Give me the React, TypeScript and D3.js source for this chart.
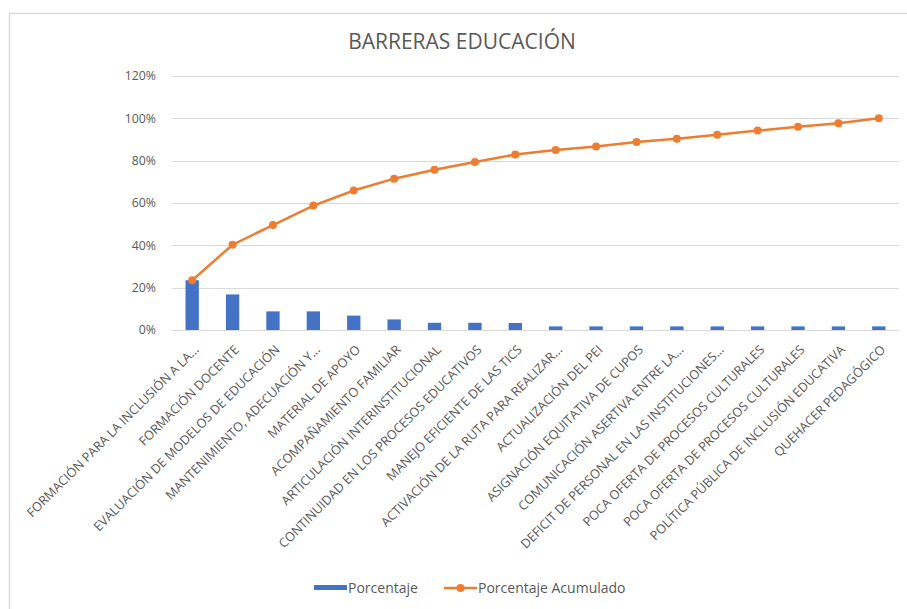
import React from "react";
import * as d3 from "d3";

const categories: string[] = [
  "FORMACIÓN PARA LA INCLUSIÓN A LA...",
  "FORMACIÓN DOCENTE",
  "EVALUACIÓN DE MODELOS DE EDUCACIÓN",
  "MANTENIMIENTO, ADECUACIÓN Y...",
  "MATERIAL DE APOYO",
  "ACOMPAÑAMIENTO FAMILIAR",
  "ARTICULACIÓN INTERINSTITUCIONAL",
  "CONTINUIDAD EN LOS PROCESOS EDUCATIVOS",
  "MANEJO EFICIENTE DE LAS TICS",
  "ACTIVACIÓN DE LA RUTA PARA REALIZAR...",
  "ACTUALIZACIÓN DEL PEI",
  "ASIGNACIÓN EQUITATIVA DE CUPOS",
  "COMUNICACIÓN ASERTIVA ENTRE LA...",
  "DEFICIT DE PERSONAL EN LAS INSTITUCIONES...",
  "POCA OFERTA DE PROCESOS CULTURALES",
  "POCA OFERTA DE PROCESOS CULTURALES",
  "POLÍTICA PÚBLICA DE INCLUSIÓN EDUCATIVA",
  "QUEHACER PEDAGÓGICO",
];

const porcentaje: number[] = [
  0.235, 0.168, 0.088, 0.088, 0.068, 0.05, 0.034, 0.034, 0.033, 0.017, 0.017,
  0.017, 0.017, 0.017, 0.017, 0.017, 0.017, 0.017,
];

const acumulado: number[] = [
  0.235, 0.403, 0.496, 0.588, 0.659, 0.715, 0.757, 0.794, 0.829, 0.85, 0.867,
  0.888, 0.903, 0.922, 0.942, 0.96, 0.977, 1.0,
];

const yTicks: number[] = [0, 0.2, 0.4, 0.6, 0.8, 1.0, 1.2];

const title = "BARRERAS EDUCACIÓN";
const legendBar = "Porcentaje";
const legendLine = "Porcentaje Acumulado";

const W = 907;
const H = 609;
const FONT = "'Open Sans', 'Noto Sans', sans-serif";
const BLUE = "#4472C4";
const ORANGE = "#ED7D31";
const TEXT = "#595959";
const GRID = "#D9D9D9";

export default function App() {
  const idx = categories.map((_, i) => String(i));
  const x = d3
    .scaleBand<string>()
    .domain(idx)
    .range([172, 899])
    .paddingInner(0.67)
    .paddingOuter(0.335);
  const y = d3.scaleLinear().domain([0, 1.2]).range([330, 76]);
  const cx = (i: number) => (x(String(i)) as number) + x.bandwidth() / 2;
  const line = d3
    .line<number>()
    .x((_, i) => cx(i))
    .y((d) => y(d));
  const fmt = d3.format(".0%");

  return (
    <svg
      width={W}
      height={H}
      style={{ position: "absolute", left: 0, top: 0, background: "#fff" }}
      fontFamily={FONT}
    >
      <rect x={0} y={0} width={W} height={H} fill="#fff" />
      <rect x={9.5} y={13.5} width={W + 10} height={H + 10} fill="none" stroke="#D9D9D9" strokeWidth={1.5} />
      <text x={462} y={49} textAnchor="middle" fontSize={21} fill={TEXT}>
        {title}
      </text>
      {yTicks.map((t) => (
        <g key={t}>
          <line x1={172} x2={899} y1={Math.round(y(t)) + 0.5} y2={Math.round(y(t)) + 0.5} stroke={GRID} strokeWidth={1} />
          <text x={156} y={y(t)} dy="0.35em" textAnchor="end" fontSize={12.3} fill={TEXT}>
            {fmt(t)}
          </text>
        </g>
      ))}
      {porcentaje.map((v, i) => (
        <rect
          key={i}
          x={x(String(i))}
          y={y(v)}
          width={x.bandwidth()}
          height={y(0) - y(v)}
          fill={BLUE}
        />
      ))}
      <path d={line(acumulado) || ""} fill="none" stroke={ORANGE} strokeWidth={2.5} />
      {acumulado.map((v, i) => (
        <circle key={i} cx={cx(i)} cy={y(v)} r={4} fill={ORANGE} />
      ))}
      {categories.map((c, i) => (
        <text
          key={i}
          transform={`translate(${cx(i) + 1},${344}) rotate(-45)`}
          textAnchor="end"
          dy="0.72em"
          fontSize={12.7}
          fill={TEXT}
        >
          {c}
        </text>
      ))}
      <g>
        <rect x={314} y={585} width={33} height={5} fill={BLUE} />
        <text x={348} y={588} dy="0.35em" fontSize={14} fill={TEXT}>
          {legendBar}
        </text>
        <line x1={444} x2={477} y1={588} y2={588} stroke={ORANGE} strokeWidth={2.5} />
        <circle cx={460.5} cy={588} r={4} fill={ORANGE} />
        <text x={478} y={588} dy="0.35em" fontSize={14} fill={TEXT}>
          {legendLine}
        </text>
      </g>
    </svg>
  );
}
